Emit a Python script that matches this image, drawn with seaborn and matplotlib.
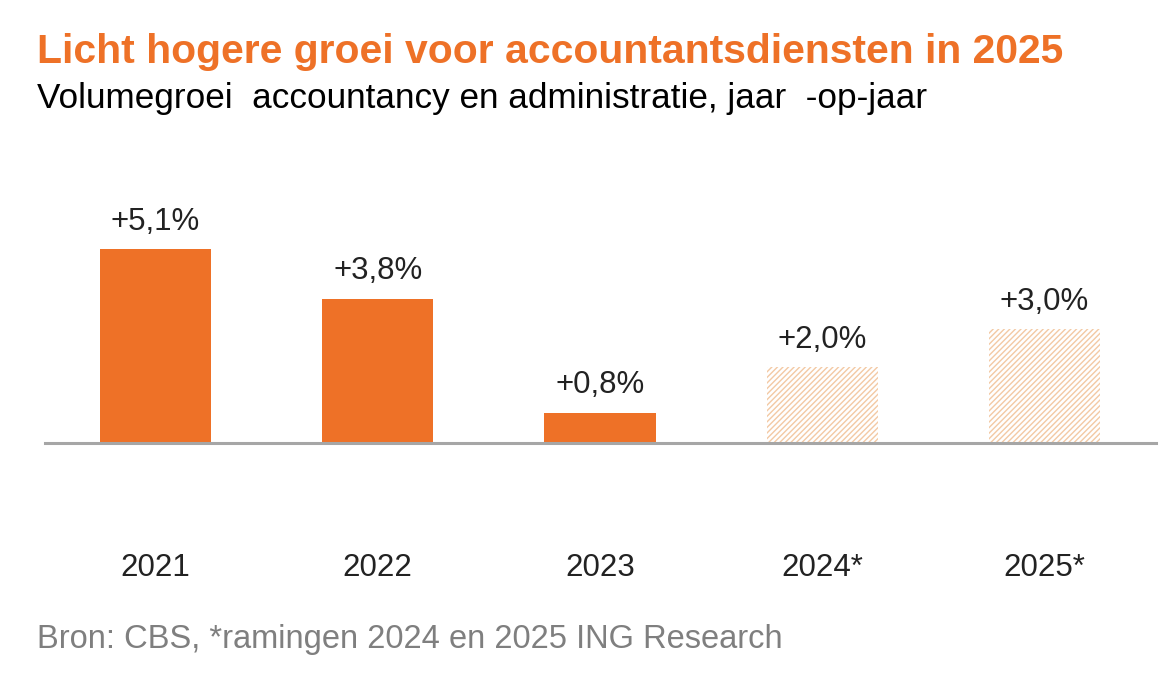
import matplotlib
matplotlib.use("Agg")
import matplotlib.pyplot as plt
import pandas as pd
import seaborn as sns

# Data
years = ["2021", "2022", "2023", "2024*", "2025*"]
growth = [5.1, 3.8, 0.8, 2.0, 3.0]
labels = ["+5,1%", "+3,8%", "+0,8%", "+2,0%", "+3,0%"]
is_forecast = [False, False, False, True, True]

ORANGE = "#EE7127"
PEACH = "#F3C9A4"
TEXT = "#222222"
GRAY = "#7F7F7F"

sns.set_theme(style="white")
plt.rcParams["font.family"] = ["Liberation Sans", "DejaVu Sans"]
plt.rcParams["hatch.linewidth"] = 1.0

df = pd.DataFrame({"year": years, "growth": growth})

fig = plt.figure(figsize=(11.71, 6.93), dpi=100)
ax = fig.add_axes([44.5 / 1171, 1 - 443 / 693, 1111 / 1171, 266 / 693])

palette = [PEACH if f else ORANGE for f in is_forecast]
sns.barplot(data=df, x="year", y="growth", hue="year", palette=palette,
            width=0.5, legend=False, ax=ax, saturation=1)

# forecast bars are hatched, no outline
for patch, f in zip(ax.patches, is_forecast):
    patch.set_linewidth(0)
    if f:
        patch.set_facecolor("white")
        patch.set_edgecolor(PEACH)
        patch.set_hatch("//////")

for i, (v, lab) in enumerate(zip(growth, labels)):
    ax.annotate(lab, (i, v), xytext=(0, 9), textcoords="offset points",
                ha="center", va="bottom", fontsize=22.5, color=TEXT)

ax.set_xlim(-0.5, 4.5)
ax.set_ylim(0, 7)
ax.set_xlabel("")
ax.set_ylabel("")
ax.set_yticks([])
for side in ["top", "right", "left"]:
    ax.spines[side].set_visible(False)
ax.spines["bottom"].set_color("#A6A6A6")
ax.spines["bottom"].set_linewidth(2.2)
ax.tick_params(axis="x", length=0, pad=79, labelsize=22.5, labelcolor=TEXT)

fig.text(37 / 1171, 1 - 63 / 693, "Licht hogere groei voor accountantsdiensten in 2025",
         fontsize=29.4, fontweight="bold", color=ORANGE, ha="left", va="baseline")
fig.text(37 / 1171, 1 - 108 / 693, "Volumegroei  accountancy en administratie, jaar  -op-jaar",
         fontsize=25.3, color="black", ha="left", va="baseline")
fig.text(37 / 1171, 1 - 648 / 693, "Bron: CBS, *ramingen 2024 en 2025 ING Research",
         fontsize=23.5, color=GRAY, ha="left", va="baseline")

fig.savefig("out.png", dpi=100, facecolor="white")
